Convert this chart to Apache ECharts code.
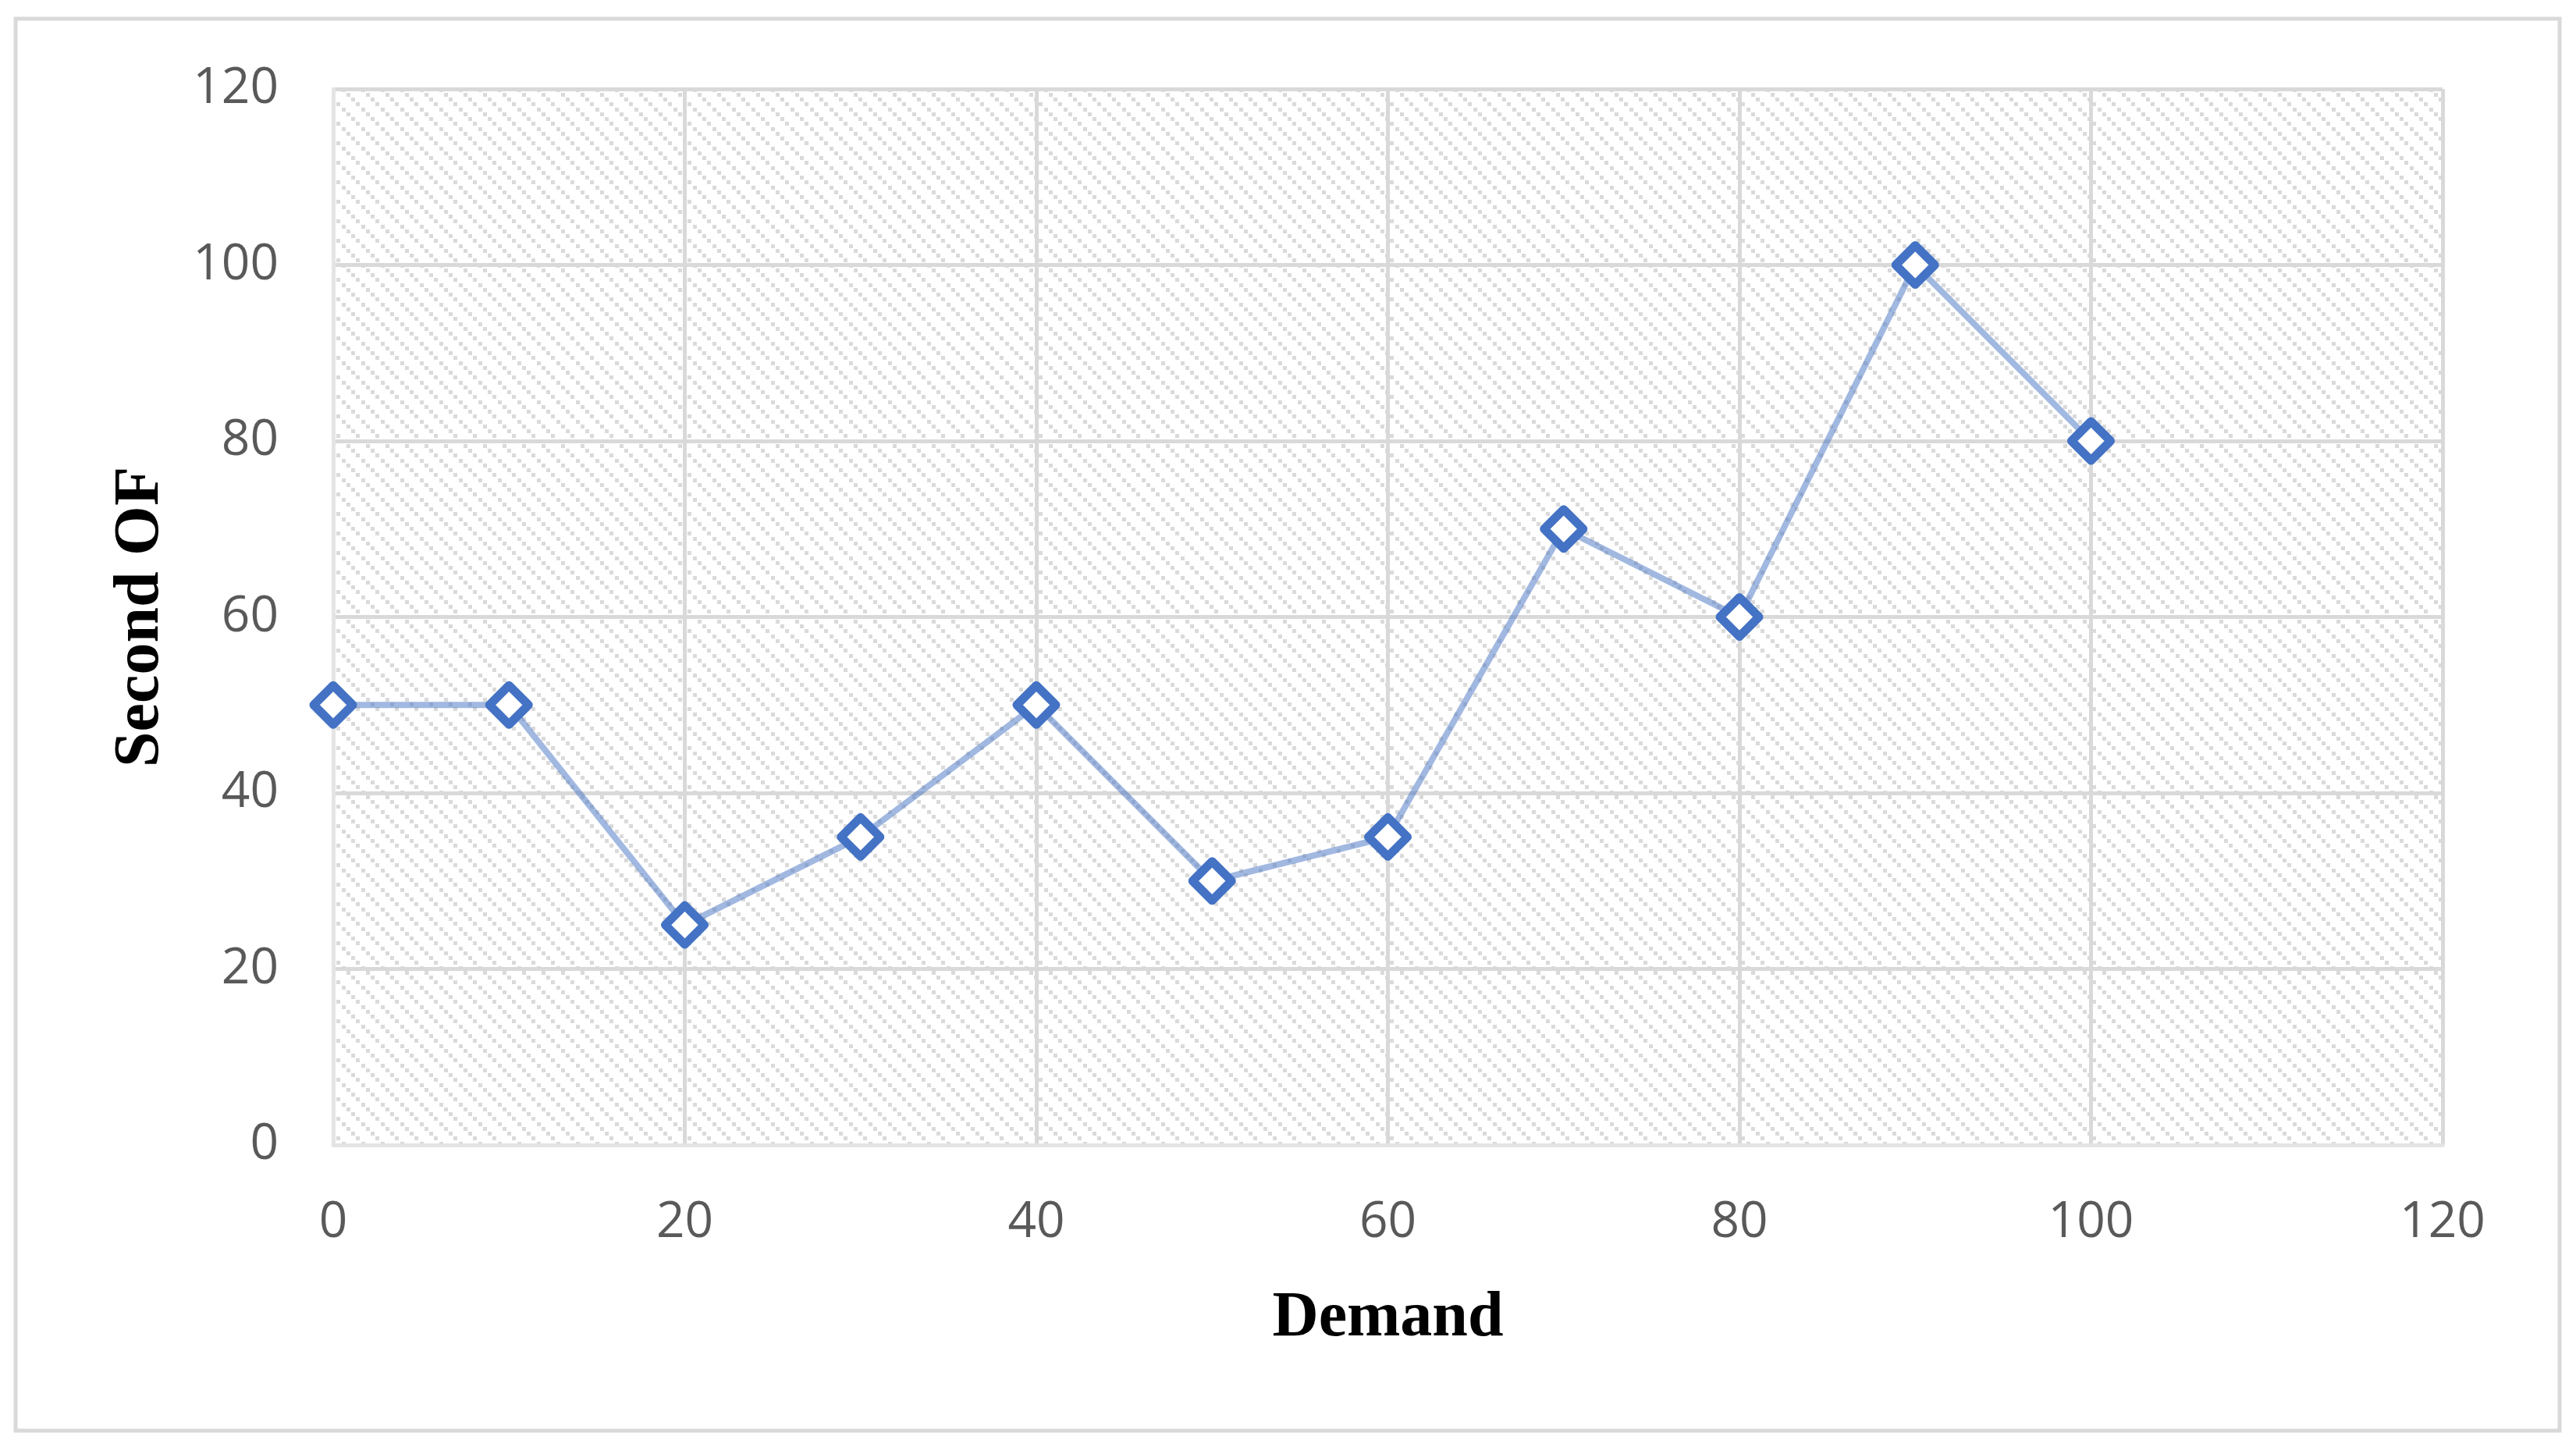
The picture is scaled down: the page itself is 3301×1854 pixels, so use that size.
<!DOCTYPE html>
<html>
<head>
<meta charset="utf-8">
<title>Second OF vs Demand</title>
<script src="https://cdn.jsdelivr.net/npm/echarts@6/dist/echarts.min.js"></script>
<style>
  html, body { margin: 0; padding: 0; background: #fff; }
  #chart { width: 3301px; height: 1854px; }
</style>
</head>
<body>
<div id="chart"></div>
<script>
// data
const demand = [0, 10, 20, 30, 40, 50, 60, 70, 80, 90, 100];
const secondOF = [50, 50, 25, 35, 50, 30, 35, 70, 60, 100, 80];
const xTicks = [0, 20, 40, 60, 80, 100, 120];
const yTicks = [0, 20, 40, 60, 80, 100, 120];

// light grey "wide downward diagonal" fill like the Excel plot area
function hatchPattern() {
  const c = document.createElement('canvas');
  c.width = 25;
  c.height = 25;
  const ctx = c.getContext('2d');
  ctx.fillStyle = '#fff';
  ctx.fillRect(0, 0, 25, 25);
  ctx.fillStyle = '#dadada';
  for (let k = 0; k < 4; k++) {
    const p = Math.round(k * 6.25);
    ctx.fillRect(p, p, 5, 5);
  }
  return c;
}

const chart = echarts.init(document.getElementById('chart'));

const axisLabel = {
  color: '#595959',
  fontFamily: 'Open Sans',
  fontSize: 64
};

const option = {
  backgroundColor: '#fff',
  animation: false,
  graphic: [
    {
      type: 'rect',
      shape: { x: 20, y: 24, width: 3260, height: 1809 },
      style: { fill: 'none', stroke: '#d9d9d9', lineWidth: 5 },
      silent: true
    }
  ],
  grid: {
    show: true,
    left: 427,
    right: 171,
    top: 114,
    bottom: 387,
    borderWidth: 0,
    backgroundColor: { image: hatchPattern(), repeat: 'repeat' }
  },
  xAxis: {
    type: 'value',
    min: 0,
    max: 120,
    interval: 20,
    name: 'Demand',
    nameLocation: 'middle',
    nameGap: 182,
    nameTextStyle: {
      color: '#000',
      fontFamily: 'Liberation Serif',
      fontWeight: 'bold',
      fontSize: 82
    },
    axisLine: { show: true, lineStyle: { color: '#e4e4e4', width: 5 } },
    axisTick: { show: false },
    axisLabel: Object.assign({ margin: 68, formatter: v => xTicks.includes(v) ? String(v) : '' }, axisLabel),
    splitLine: { show: true, showMinLine: false, lineStyle: { color: '#d9d9d9', width: 5 } }
  },
  yAxis: {
    type: 'value',
    min: 0,
    max: 120,
    interval: 20,
    name: 'Second OF',
    nameLocation: 'middle',
    nameGap: 205,
    nameTextStyle: {
      color: '#000',
      fontFamily: 'Liberation Serif',
      fontWeight: 'bold',
      fontSize: 82
    },
    axisLine: { show: true, lineStyle: { color: '#e4e4e4', width: 5 } },
    axisTick: { show: false },
    axisLabel: Object.assign({ margin: 70, padding: [8, 0, 0, 0], formatter: v => yTicks.includes(v) ? String(v) : '' }, axisLabel),
    splitLine: { show: true, showMinLine: false, lineStyle: { color: '#d9d9d9', width: 5 } }
  },
  series: [
    {
      name: 'Second OF',
      type: 'line',
      data: demand.map((d, i) => [d, secondOF[i]]),
      symbol: 'diamond',
      symbolSize: 50,
      showAllSymbol: true,
      lineStyle: { color: '#4472C4', width: 8, opacity: 0.5 },
      itemStyle: {
        color: '#fff',
        borderColor: '#4472C4',
        borderWidth: 11,
        borderJoin: 'round'
      },
      z: 5
    }
  ]
};

chart.setOption(option);
</script>
</body>
</html>
